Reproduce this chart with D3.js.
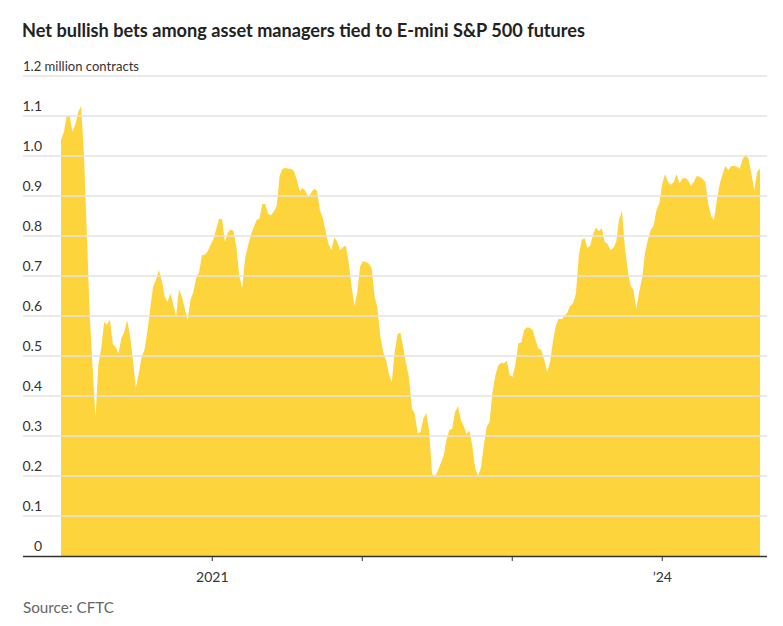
<!DOCTYPE html>
<html>
<head>
<meta charset="utf-8">
<script src="https://cdn.jsdelivr.net/npm/d3@7"></script>
<style>
  html, body { margin: 0; padding: 0; background: #fff; }
  svg { display: block; }
  text { font-family: Lato, "Noto Sans", sans-serif; }
</style>
</head>
<body>
<svg id="chart" width="783" height="626"></svg>
<script>
// ---- Data (million contracts, weekly CFTC reports) ----
const firstWeek = "2019-12-31";
const netLongMillions = [
  1.04, 1.06, 1.10, 1.10, 1.06, 1.08, 1.11, 1.125, 1.0, 0.80,
  0.60, 0.47, 0.345, 0.48, 0.52, 0.585, 0.578, 0.592, 0.53, 0.522,
  0.507, 0.545, 0.56, 0.59, 0.55, 0.49, 0.42, 0.455, 0.497, 0.515,
  0.56, 0.618, 0.673, 0.69, 0.715, 0.69, 0.65, 0.635, 0.657, 0.63,
  0.60, 0.667, 0.648, 0.62, 0.59, 0.64, 0.66, 0.695, 0.71, 0.752,
  0.753, 0.762, 0.778, 0.793, 0.818, 0.844, 0.841, 0.785, 0.808, 0.817,
  0.812, 0.77, 0.70, 0.669, 0.744, 0.775, 0.803, 0.822, 0.84, 0.844,
  0.88, 0.88, 0.855, 0.852, 0.862, 0.875, 0.95, 0.968, 0.97, 0.968,
  0.968, 0.962, 0.94, 0.912, 0.92, 0.912, 0.897, 0.908, 0.918, 0.913,
  0.865, 0.845, 0.812, 0.78, 0.765, 0.796, 0.786, 0.765, 0.772, 0.776,
  0.735, 0.675, 0.625, 0.66, 0.725, 0.737, 0.735, 0.731, 0.72, 0.65,
  0.62, 0.55, 0.51, 0.49, 0.455, 0.435, 0.51, 0.555, 0.558, 0.52,
  0.48, 0.445, 0.369, 0.355, 0.307, 0.31, 0.345, 0.357, 0.31, 0.205,
  0.198, 0.213, 0.232, 0.25, 0.29, 0.315, 0.318, 0.36, 0.375, 0.34,
  0.325, 0.305, 0.314, 0.275, 0.218, 0.2, 0.222, 0.2775, 0.323, 0.335,
  0.41, 0.452, 0.476, 0.483, 0.482, 0.488, 0.452, 0.448, 0.48, 0.532,
  0.533, 0.565, 0.572, 0.57, 0.565, 0.54, 0.518, 0.515, 0.49, 0.46,
  0.485, 0.535, 0.575, 0.593, 0.592, 0.6, 0.608, 0.625, 0.632, 0.655,
  0.75, 0.79, 0.795, 0.77, 0.776, 0.805, 0.821, 0.812, 0.82, 0.785,
  0.78, 0.765, 0.77, 0.785, 0.84, 0.864, 0.773, 0.715, 0.676, 0.665,
  0.618, 0.66, 0.694, 0.757, 0.79, 0.815, 0.825, 0.865, 0.882, 0.93,
  0.955, 0.935, 0.928, 0.935, 0.955, 0.932, 0.944, 0.945, 0.94, 0.925,
  0.935, 0.95, 0.948, 0.943, 0.935, 0.88, 0.85, 0.84, 0.89, 0.93,
  0.955, 0.975, 0.965, 0.975, 0.975, 0.973, 0.968, 0.993, 1.004, 0.993,
  0.955, 0.915, 0.96, 0.969
];
const yTicks = [0, 0.1, 0.2, 0.3, 0.4, 0.5, 0.6, 0.7, 0.8, 0.9, 1.0, 1.1, 1.2];
const yTopLabel = "1.2 million contracts";
const xTickDates = ["2021-01-01", "2022-01-01", "2023-01-01", "2024-01-01"];
const xTickLabels = ["2021", "", "", "\u201924"];
const titleText = "Net bullish bets among asset managers tied to E-mini S&P 500 futures";
const sourceText = "Source: CFTC";

// ---- Build ----
const parse = d3.utcParse("%Y-%m-%d");
const start = parse(firstWeek);
const data = netLongMillions.map((v, i) => ({ date: d3.utcDay.offset(start, 7 * i), value: v }));

const svg = d3.select("#chart");
const plotLeft = 61, plotRight = 760, gridLeft = 23, gridRight = 767;
const plotTop = 76, plotBottom = 556;

const x = d3.scaleUtc()
  .domain([data[0].date, data[data.length - 1].date])
  .range([plotLeft, plotRight]);
const y = d3.scaleLinear().domain([0, 1.2]).range([plotBottom, plotTop]);

// Title
svg.append("text")
  .attr("x", 22).attr("y", 37)
  .attr("font-size", 18).attr("font-weight", 700)
  .attr("fill", "#222")
  .attr("textLength", 563).attr("lengthAdjust", "spacingAndGlyphs")
  .text(titleText);

// Area
const area = d3.area()
  .x(d => x(d.date))
  .y0(y(0))
  .y1(d => y(d.value));
svg.append("path")
  .datum(data)
  .attr("d", area)
  .attr("fill", "#fdd43c");

// Grid lines (drawn above area)
svg.append("g").selectAll("line")
  .data(yTicks.filter(t => t > 0))
  .join("line")
  .attr("x1", gridLeft).attr("x2", gridRight)
  .attr("y1", d => y(d)).attr("y2", d => y(d))
  .attr("stroke", "#e3e3e3").attr("stroke-width", 1.5);

// Y labels
svg.append("g").selectAll("text")
  .data(yTicks.filter(t => t < 1.2))
  .join("text")
  .attr("x", 42).attr("y", d => y(d) - 5)
  .attr("text-anchor", "end")
  .attr("font-size", 14).attr("fill", "#333")
  .text(d => d === 0 ? "0" : d3.format(".1f")(d));

svg.append("text")
  .attr("x", 23).attr("y", y(1.2) - 5)
  .attr("font-size", 14).attr("fill", "#333")
  .attr("textLength", 116).attr("lengthAdjust", "spacingAndGlyphs")
  .text(yTopLabel);

// X axis
const xAxis = d3.axisBottom(x)
  .tickValues(xTickDates.map(parse))
  .tickFormat((d, i) => xTickLabels[i])
  .tickSize(5)
  .tickSizeOuter(0);
const gx = svg.append("g")
  .attr("transform", `translate(0,${plotBottom})`)
  .call(xAxis);
gx.select(".domain").remove();
gx.selectAll(".tick line").attr("stroke", "#555").attr("stroke-width", 1.2);
gx.selectAll(".tick text")
  .attr("font-size", 14).attr("fill", "#333")
  .attr("font-family", "Lato, 'Noto Sans', sans-serif")
  .attr("dy", "1.25em");
svg.append("line")
  .attr("x1", gridLeft).attr("x2", gridRight)
  .attr("y1", plotBottom + 0.5).attr("y2", plotBottom + 0.5)
  .attr("stroke", "#333").attr("stroke-width", 1.5);

// Source
svg.append("text")
  .attr("x", 23).attr("y", 613)
  .attr("font-size", 15).attr("fill", "#666")
  .attr("textLength", 91).attr("lengthAdjust", "spacingAndGlyphs")
  .text(sourceText);
</script>
</body>
</html>
